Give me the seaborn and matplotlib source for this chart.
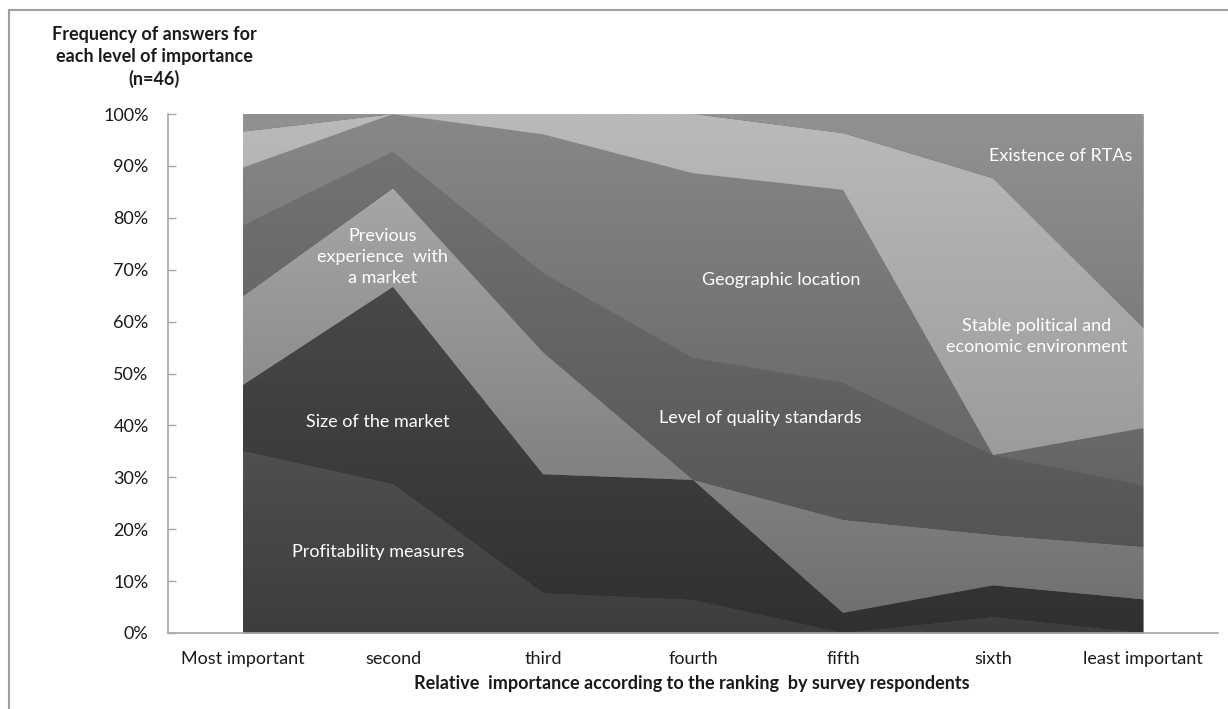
import numpy as np
import pandas as pd
import matplotlib.pyplot as plt
import seaborn as sns
from matplotlib.colors import LinearSegmentedColormap
from matplotlib.patches import Rectangle

# ranking positions on the x axis
categories = ["Most important", "second", "third", "fourth", "fifth", "sixth", "least important"]

# share of answers (%) per factor, bottom layer first
profitability = [35.1, 28.7, 7.7, 6.4, 0.0, 3.1, 0.0]
market_size = [12.7, 38.0, 22.9, 23.1, 3.9, 6.1, 6.5]
previous_experience = [17.1, 19.0, 23.5, 0.0, 17.9, 9.7, 10.1]
quality_standards = [13.6, 7.0, 15.3, 23.5, 26.4, 15.4, 11.9]
geographic = [11.2, 7.3, 26.7, 35.6, 37.2, 0.0, 11.0]
stable_env = [6.9, 0.0, 3.9, 11.4, 10.9, 53.3, 19.3]
rtas = [3.4, 0.0, 0.0, 0.0, 3.7, 12.4, 41.2]

layer_names = ["Profitability measures", "Size of the market", "Previous experience with a market",
               "Level of quality standards", "Geographic location",
               "Stable political and economic environment", "Existence of RTAs"]

df = pd.DataFrame({
    layer_names[0]: profitability,
    layer_names[1]: market_size,
    layer_names[2]: previous_experience,
    layer_names[3]: quality_standards,
    layer_names[4]: geographic,
    layer_names[5]: stable_env,
    layer_names[6]: rtas,
}, index=categories)

# gradient (bottom colour, top colour) for each layer, excel style
gradients = [("#3d3d3d", "#707070"),
             ("#303030", "#555555"),
             ("#6d6d6d", "#b0b0b0"),
             ("#4e4e4e", "#767676"),
             ("#565656", "#888888"),
             ("#8c8c8c", "#bababa"),
             ("#5e5e5e", "#929292")]

sns.set_theme(style="white")
plt.rcParams['font.family'] = ['Lato', 'DejaVu Sans']

fig = plt.figure(figsize=(12.28, 7.09), dpi=100)
ax = fig.add_axes([0.1368, 0.1072, 0.8551, 0.7320])

x = np.arange(len(categories))
mid_colors = [g[0] for g in gradients]
polys = ax.stackplot(x, *[df[c].values for c in df.columns], colors=mid_colors, linewidth=0)

grad = np.linspace(0, 1, 256).reshape(-1, 1)
for poly, (c_bot, c_top) in zip(polys, gradients):
    cmap = LinearSegmentedColormap.from_list("g", [c_bot, c_top])
    im = ax.imshow(grad, extent=(-0.5, 6.5, 0, 100), origin="lower", aspect="auto",
                   cmap=cmap, vmin=0, vmax=1, zorder=2, interpolation="bilinear")
    im.set_clip_path(poly.get_paths()[0], ax.transData)

ax.set_xlim(-0.5, 6.5)
ax.set_ylim(0, 100)

ax.set_yticks(np.arange(0, 101, 10))
ax.set_yticklabels([f"{v}%" for v in range(0, 101, 10)])
ax.set_xticks(x)
ax.set_xticklabels(categories)
ax.tick_params(axis="y", direction="in", length=6, width=1, color="#a6a6a6",
               labelsize=13, labelcolor="#1a1a1a", pad=14, left=True)
ax.tick_params(axis="x", length=0, labelsize=13, labelcolor="#1a1a1a", pad=13)

for s in ["top", "right"]:
    ax.spines[s].set_visible(False)
for s in ["left", "bottom"]:
    ax.spines[s].set_color("#a6a6a6")
    ax.spines[s].set_linewidth(1.2)

# labels inside the areas
txt = dict(color="white", fontsize=13, ha="center", va="center", zorder=5)
ax.text(0.90, 15.6, "Profitability measures", **txt)
ax.text(0.90, 40.7, "Size of the market", **txt)
ax.text(0.93, 72.4, "Previous\nexperience  with\na market", linespacing=1.38, **txt)
ax.text(3.45, 41.4, "Level of quality standards", **txt)
ax.text(3.59, 68.0, "Geographic location", **txt)
ax.text(5.29, 57.2, "Stable political and\neconomic environment", linespacing=1.38, **txt)
ax.text(5.45, 91.9, "Existence of RTAs", **txt)

fig.text(154 / 1228, 1 - 57 / 709, "Frequency of answers for\neach level of importance\n(n=46)",
         ha="center", va="center", fontsize=13, fontweight="bold", color="#1a1a1a", linespacing=1.32)
fig.text(692 / 1228, 1 - 683 / 709, "Relative  importance according to the ranking  by survey respondents",
         ha="center", va="center", fontsize=13, fontweight="bold", color="#1a1a1a")

# outer chart frame
fig.add_artist(Rectangle((9 / 1228, -0.05), 1.1, 1.05 - 10 / 709, transform=fig.transFigure,
                         fill=False, edgecolor="#a0a0a0", linewidth=1.5, clip_on=False))

fig.savefig("out.png", dpi=100)
